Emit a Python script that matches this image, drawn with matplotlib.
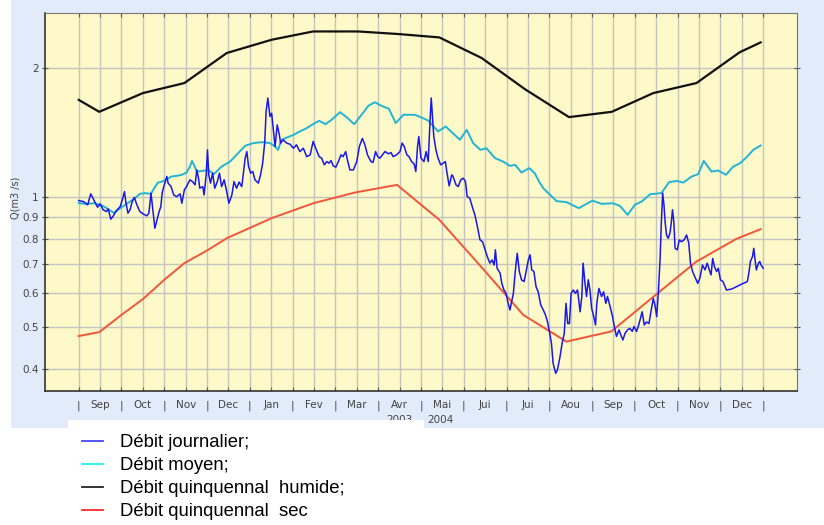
import numpy as np
import matplotlib
matplotlib.use("Agg")
from matplotlib import pyplot as plt
from matplotlib import transforms
from matplotlib.lines import Line2D
from matplotlib.patches import Rectangle
from matplotlib.ticker import NullLocator

# x values are months since 1 Sep 2003 (one month = one tick interval)
months = ["Sep", "Oct", "Nov", "Dec", "Jan", "Fev", "Mar", "Avr",
          "Mai", "Jui", "Jui", "Aou", "Sep", "Oct", "Nov", "Dec"]
y_ticks = [0.4, 0.5, 0.6, 0.7, 0.8, 0.9, 1, 2]
y_tick_labels = ["0.4", "0.5", "0.6", "0.7", "0.8", "0.9", "1", "2"]

# Débit journalier (t, Q)
journalier = [
    (0.00, 0.983), (0.11, 0.978), (0.21, 0.961), (0.28, 1.019), (0.36, 0.983),
    (0.44, 0.949), (0.50, 0.966), (0.57, 0.936), (0.65, 0.927), (0.69, 0.940),
    (0.75, 0.890), (0.81, 0.906), (0.86, 0.927), (0.97, 0.952), (1.03, 0.996),
    (1.07, 1.031), (1.10, 0.978), (1.15, 0.919), (1.20, 0.936), (1.25, 0.978),
    (1.30, 1.000), (1.36, 0.961), (1.43, 0.927), (1.51, 0.915), (1.59, 0.906),
    (1.64, 0.919), (1.69, 1.023), (1.72, 0.961), (1.75, 0.902), (1.78, 0.848),
    (1.83, 0.887), (1.88, 0.927), (1.92, 0.952), (1.95, 1.023), (2.00, 1.069),
    (2.06, 1.118), (2.09, 1.079), (2.16, 1.059), (2.22, 1.013), (2.29, 1.004),
    (2.37, 1.019), (2.41, 0.969), (2.47, 1.041), (2.52, 1.059), (2.60, 1.098),
    (2.66, 1.088), (2.72, 1.069), (2.76, 1.158), (2.80, 1.108), (2.83, 1.050),
    (2.90, 1.059), (2.93, 1.013), (2.98, 1.128), (3.01, 1.289), (3.04, 1.128),
    (3.08, 1.079), (3.13, 1.138), (3.18, 1.050), (3.24, 1.088), (3.29, 1.138),
    (3.34, 1.059), (3.40, 1.098), (3.46, 1.031), (3.51, 0.969), (3.58, 1.013),
    (3.63, 1.088), (3.69, 1.050), (3.75, 1.085), (3.81, 1.059), (3.85, 1.138),
    (3.89, 1.233), (3.93, 1.277), (3.97, 1.179), (4.02, 1.138), (4.07, 1.148),
    (4.12, 1.098), (4.20, 1.079), (4.25, 1.128), (4.30, 1.200), (4.35, 1.348),
    (4.38, 1.581), (4.42, 1.700), (4.47, 1.540), (4.51, 1.567), (4.55, 1.434),
    (4.59, 1.312), (4.64, 1.473), (4.69, 1.396), (4.72, 1.336), (4.78, 1.360),
    (4.86, 1.336), (4.94, 1.328), (5.02, 1.300), (5.09, 1.324), (5.17, 1.277),
    (5.25, 1.300), (5.33, 1.243), (5.41, 1.255), (5.48, 1.348), (5.54, 1.300),
    (5.62, 1.243), (5.68, 1.233), (5.74, 1.190), (5.80, 1.211), (5.85, 1.200),
    (5.90, 1.217), (5.95, 1.183), (6.01, 1.175), (6.07, 1.211), (6.13, 1.255),
    (6.18, 1.243), (6.24, 1.277), (6.29, 1.211), (6.34, 1.158), (6.42, 1.158),
    (6.50, 1.211), (6.56, 1.312), (6.63, 1.370), (6.69, 1.324), (6.75, 1.255),
    (6.83, 1.211), (6.88, 1.205), (6.94, 1.277), (6.99, 1.243), (7.04, 1.233),
    (7.10, 1.255), (7.16, 1.277), (7.24, 1.262), (7.30, 1.270), (7.35, 1.243),
    (7.43, 1.255), (7.51, 1.277), (7.56, 1.336), (7.61, 1.312), (7.67, 1.255),
    (7.72, 1.243), (7.78, 1.211), (7.84, 1.195), (7.88, 1.148), (7.92, 1.312),
    (7.95, 1.384), (8.00, 1.233), (8.07, 1.211), (8.12, 1.277), (8.17, 1.211),
    (8.21, 1.487), (8.24, 1.700), (8.27, 1.540), (8.30, 1.384), (8.35, 1.289),
    (8.40, 1.233), (8.46, 1.190), (8.52, 1.200), (8.57, 1.211), (8.61, 1.138),
    (8.66, 1.063), (8.72, 1.128), (8.75, 1.118), (8.82, 1.069), (8.87, 1.059),
    (8.93, 1.098), (8.99, 1.108), (9.04, 1.088), (9.08, 1.004), (9.14, 0.996),
    (9.21, 0.944), (9.26, 0.911), (9.32, 0.855), (9.38, 0.797), (9.44, 0.789),
    (9.50, 0.756), (9.55, 0.729), (9.61, 0.704), (9.66, 0.716), (9.71, 0.697),
    (9.74, 0.756), (9.78, 0.685), (9.85, 0.667), (9.89, 0.632), (9.94, 0.610),
    (9.99, 0.599), (10.03, 0.573), (10.08, 0.548), (10.12, 0.573), (10.16, 0.599),
    (10.20, 0.667), (10.25, 0.742), (10.30, 0.673), (10.35, 0.644), (10.41, 0.638),
    (10.45, 0.667), (10.51, 0.716), (10.55, 0.736), (10.59, 0.679), (10.64, 0.673),
    (10.69, 0.621), (10.74, 0.604), (10.80, 0.563), (10.86, 0.548), (10.91, 0.534),
    (10.96, 0.514), (11.01, 0.484), (11.05, 0.459), (11.09, 0.412), (11.15, 0.391),
    (11.19, 0.398), (11.25, 0.427), (11.30, 0.459), (11.35, 0.484), (11.39, 0.568),
    (11.43, 0.510), (11.47, 0.510), (11.51, 0.599), (11.56, 0.610), (11.61, 0.599),
    (11.66, 0.610), (11.72, 0.543), (11.76, 0.589), (11.79, 0.704), (11.83, 0.638),
    (11.87, 0.589), (11.91, 0.644), (11.95, 0.610), (11.99, 0.553), (12.04, 0.529),
    (12.08, 0.506), (12.11, 0.568), (12.16, 0.615), (12.22, 0.589), (12.27, 0.604),
    (12.32, 0.568), (12.36, 0.589), (12.42, 0.558), (12.47, 0.534), (12.52, 0.502),
    (12.57, 0.476), (12.63, 0.493), (12.67, 0.480), (12.72, 0.467), (12.77, 0.484),
    (12.83, 0.493), (12.88, 0.497), (12.94, 0.489), (12.98, 0.502), (13.04, 0.489),
    (13.09, 0.506), (13.14, 0.529), (13.17, 0.543), (13.22, 0.506), (13.27, 0.514),
    (13.33, 0.510), (13.37, 0.539), (13.43, 0.583), (13.47, 0.563), (13.51, 0.529),
    (13.55, 0.604), (13.59, 0.722), (13.62, 0.879), (13.65, 1.023), (13.68, 0.961),
    (13.71, 0.871), (13.74, 0.818), (13.78, 0.804), (13.82, 0.826), (13.85, 0.871),
    (13.88, 0.936), (13.91, 0.879), (13.94, 0.762), (13.99, 0.756), (14.04, 0.797),
    (14.09, 0.789), (14.15, 0.797), (14.21, 0.818), (14.26, 0.783), (14.30, 0.704),
    (14.35, 0.673), (14.40, 0.655), (14.47, 0.632), (14.52, 0.650), (14.58, 0.697),
    (14.64, 0.679), (14.69, 0.704), (14.74, 0.679), (14.78, 0.661), (14.82, 0.722),
    (14.86, 0.691), (14.91, 0.673), (14.95, 0.685), (15.00, 0.644), (15.06, 0.638),
    (15.14, 0.610), (15.26, 0.613), (15.38, 0.621), (15.49, 0.629), (15.63, 0.638),
    (15.67, 0.673), (15.70, 0.710), (15.75, 0.729), (15.78, 0.762), (15.81, 0.716),
    (15.84, 0.679), (15.89, 0.704), (15.92, 0.710), (15.95, 0.697), (16.00, 0.685),
]

# Débit moyen
moyen_t = [0.00, 0.15, 0.38, 0.57, 0.69, 0.83, 0.97, 1.12, 1.32, 1.43, 1.55, 1.69,
           1.74, 1.85, 1.95, 2.06, 2.17, 2.29, 2.41, 2.52, 2.60, 2.65, 2.76, 2.91,
           3.03, 3.16, 3.34, 3.54, 3.73, 3.89, 4.08, 4.28, 4.47, 4.59, 4.66, 4.74,
           4.86, 5.02, 5.17, 5.33, 5.45, 5.62, 5.77, 5.91, 6.11, 6.26, 6.44, 6.61,
           6.77, 6.92, 7.08, 7.25, 7.41, 7.59, 7.86, 8.05, 8.17, 8.40, 8.58, 8.91,
           9.07, 9.22, 9.39, 9.53, 9.73, 9.92, 10.08, 10.20, 10.35, 10.53, 10.66,
           10.76, 10.86, 11.17, 11.40, 11.69, 12.01, 12.22, 12.49, 12.65, 12.83,
           13.00, 13.16, 13.36, 13.62, 13.80, 13.98, 14.13, 14.33, 14.48, 14.61,
           14.79, 14.95, 15.13, 15.30, 15.46, 15.61, 15.77, 15.94]
moyen_q = [0.970, 0.966, 0.969, 0.955, 0.939, 0.919, 0.944, 0.966, 0.996, 1.019, 1.023, 1.019,
           1.041, 1.082, 1.088, 1.102, 1.118, 1.122, 1.128, 1.142, 1.179, 1.215, 1.148, 1.152,
           1.158, 1.132, 1.179, 1.211, 1.267, 1.317, 1.336, 1.343, 1.336, 1.312, 1.289, 1.360,
           1.376, 1.396, 1.422, 1.447, 1.473, 1.505, 1.478, 1.513, 1.576, 1.535, 1.478, 1.554,
           1.630, 1.662, 1.630, 1.605, 1.487, 1.554, 1.554, 1.526, 1.507, 1.422, 1.460, 1.360,
           1.434, 1.336, 1.289, 1.300, 1.233, 1.211, 1.183, 1.190, 1.142, 1.169, 1.138,
           1.088, 1.050, 0.980, 0.975, 0.944, 0.983, 0.966, 0.969, 0.956, 0.911,
           0.961, 0.978, 1.017, 1.023, 1.085, 1.092, 1.082, 1.118, 1.132, 1.215,
           1.148, 1.154, 1.128, 1.179, 1.200, 1.239, 1.289, 1.319]

# Débit quinquennal humide
humide_t = [0.00, 0.48, 1.50, 2.47, 3.46, 4.51, 5.48, 6.53, 7.49, 8.43, 9.42,
            10.43, 11.46, 12.46, 13.43, 14.44, 15.45, 15.94]
humide_q = [1.683, 1.579, 1.745, 1.841, 2.161, 2.320, 2.425, 2.425, 2.391, 2.349, 2.104,
            1.782, 1.535, 1.579, 1.745, 1.841, 2.170, 2.287]

# Débit quinquennal sec
sec_t = [0.00, 0.48, 1.00, 1.50, 2.00, 2.47, 3.00, 3.46, 4.51, 5.48, 6.45, 7.44,
         8.43, 9.42, 10.39, 11.40, 12.45, 13.43, 14.44, 15.38, 15.94]
sec_q = [0.477, 0.487, 0.534, 0.581, 0.644, 0.704, 0.753, 0.804, 0.895, 0.969, 1.026, 1.069,
         0.887, 0.688, 0.534, 0.463, 0.489, 0.588, 0.710, 0.802, 0.844]

legend_labels = ["Débit journalier;", "Débit moyen;",
                 "Débit quinquennal  humide;", "Débit quinquennal  sec"]

W, H = 824, 525
fig = plt.figure(figsize=(W / 100, H / 100), dpi=100)
fig.patch.set_facecolor("white")

# Light blue panel behind the chart.
fig.add_artist(Rectangle((11 / W, 1 - 428 / H), (W - 11) / W, 428 / H,
                         transform=fig.transFigure, facecolor="#e1ebfa",
                         edgecolor="none", zorder=-2))

ax = fig.add_axes([45 / W, 1 - 391 / H, 752 / W, 378 / H])
ax.set_facecolor("#fdf9c8")

jt = np.array([p[0] for p in journalier])
jq = np.array([p[1] for p in journalier])

ax.plot(humide_t, humide_q, color="#111111", lw=1.6, zorder=3)
ax.plot(sec_t, sec_q, color="#f2553a", lw=1.4, zorder=3)
ax.plot(moyen_t, moyen_q, color="#22b4d6", lw=1.4, zorder=3)
ax.plot(jt, jq, color="#1818ee", lw=1.1, zorder=4)

ax.set_yscale("log")
ax.set_ylim(0.3557, 2.676)
ax.set_xlim(-0.788, 16.79)

ax.set_yticks(y_ticks)
ax.set_yticklabels(y_tick_labels)
ax.yaxis.set_minor_locator(NullLocator())

ax.set_xticks(np.arange(len(months) + 1))
ax.set_xticklabels(["|"] * (len(months) + 1))
ax.set_xticks(np.arange(len(months)) + 0.5, minor=True)
ax.set_xticklabels(months, minor=True)

ax.set_axisbelow(True)
ax.grid(True, which="both", axis="x", color="#c4c4c0", lw=1.0)
ax.grid(True, which="major", axis="y", color="#c4c4c0", lw=1.0)

ax.tick_params(axis="x", which="both", direction="in", top=True, length=3,
               pad=6.5, labelsize=7.5, labelcolor="#444444", color="#555555")
ax.tick_params(axis="y", which="both", direction="inout", right=True, length=5,
               pad=2, labelsize=7.5, labelcolor="#444444", color="#555555")

for side in ("left", "bottom"):
    ax.spines[side].set_color("#333333")
    ax.spines[side].set_linewidth(1.2)
for side in ("top", "right"):
    ax.spines[side].set_color("#777777")
    ax.spines[side].set_linewidth(0.8)

ax.set_ylabel("Q(m3 /s)", fontsize=7, color="#444444")
ax.yaxis.set_label_coords(-0.033, 0.51)

# Year labels under the month labels (partly hidden by the legend box).
trans = transforms.blended_transform_factory(ax.transData, ax.transAxes)
ax.text(7.5, -0.077, "2003", transform=trans, ha="center", va="center",
        fontsize=7.5, color="#444444", clip_on=False)
ax.text(8.45, -0.077, "2004", transform=trans, ha="center", va="center",
        fontsize=7.5, color="#444444", clip_on=False)

# White legend box overlapping the bottom of the panel.
fig.add_artist(Rectangle((68 / W, 0), 356 / W, 105 / H, transform=fig.transFigure,
                         facecolor="white", edgecolor="none", zorder=3))

handles = [Line2D([], [], color=c, lw=1.3)
           for c in ("#4646ff", "#22f0f0", "#222222", "#ff2a2a")]
leg = fig.legend(handles, legend_labels, loc="upper left",
                 bbox_to_anchor=(82 / W, 1 - 434 / H), frameon=False,
                 prop={"family": "Liberation Sans", "size": 13.3},
                 handlelength=1.12, handletextpad=0.95, labelspacing=0.33,
                 borderpad=0, borderaxespad=0)
leg.set_zorder(5)

fig.savefig("out.png", dpi=100)
